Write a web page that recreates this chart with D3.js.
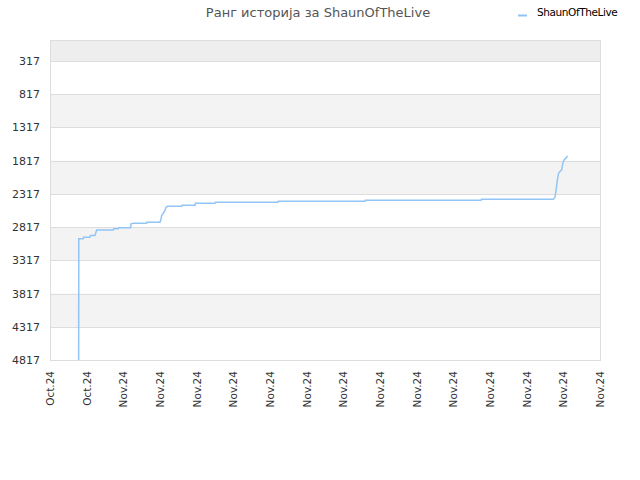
<html>
<head>
<meta charset="utf-8">
<script src="https://d3js.org/d3.v7.min.js"></script>
<style>
  body { margin: 0; background: #fff; }
  text { font-family: "DejaVu Sans", sans-serif; }
</style>
</head>
<body>
<svg id="chart" width="640" height="480"></svg>
<script>
// rank history
var dates = [
  "2024-10-29T13:30", "2024-10-29T13:40", "2024-10-29T19:30", "2024-10-29T20:00",
  "2024-10-30T04:20", "2024-10-30T04:50", "2024-10-30T10:50", "2024-10-30T13:10",
  "2024-10-31T10:50", "2024-10-31T11:20", "2024-10-31T17:20", "2024-10-31T17:50",
  "2024-11-01T09:30", "2024-11-01T10:00", "2024-11-01T13:30", "2024-11-02T06:30",
  "2024-11-02T07:00", "2024-11-03T00:00", "2024-11-03T01:20", "2024-11-03T02:10",
  "2024-11-03T04:20", "2024-11-03T06:30", "2024-11-03T07:55", "2024-11-03T10:05",
  "2024-11-04T04:25", "2024-11-04T04:55", "2024-11-04T21:50", "2024-11-04T22:20",
  "2024-11-06T00:00", "2024-11-06T00:30", "2024-11-09T10:30", "2024-11-09T11:00",
  "2024-11-14T04:20", "2024-11-14T04:50", "2024-11-20T12:15", "2024-11-20T12:45",
  "2024-11-24T10:50", "2024-11-24T13:05", "2024-11-24T14:25", "2024-11-24T16:05",
  "2024-11-24T17:30", "2024-11-24T19:40", "2024-11-24T21:50", "2024-11-24T23:05",
  "2024-11-25T00:55", "2024-11-25T04:25", "2024-11-25T05:15"
];
var ranks = [
  4817, 2992, 2992, 2968,
  2968, 2942, 2942, 2862,
  2862, 2841, 2841, 2827,
  2827, 2767, 2758, 2758,
  2743, 2743, 2693, 2642,
  2608, 2567, 2518, 2503,
  2503, 2488, 2488, 2458,
  2458, 2443, 2443, 2428,
  2428, 2413, 2413, 2398,
  2398, 2368, 2267, 2117,
  2017, 1978, 1957, 1867,
  1807, 1768, 1742
];
var yTicks = [317, 817, 1317, 1817, 2317, 2817, 3317, 3817, 4317, 4817];
var xTickDates = [
  "2024-10-28", "2024-10-30", "2024-11-01", "2024-11-03", "2024-11-05", "2024-11-07",
  "2024-11-09", "2024-11-11", "2024-11-13", "2024-11-15", "2024-11-17", "2024-11-19",
  "2024-11-21", "2024-11-23", "2024-11-25", "2024-11-27"
];
var xTickLabels = [
  "Oct.24", "Oct.24", "Nov.24", "Nov.24", "Nov.24", "Nov.24", "Nov.24", "Nov.24",
  "Nov.24", "Nov.24", "Nov.24", "Nov.24", "Nov.24", "Nov.24", "Nov.24", "Nov.24"
];
var seriesName = "ShaunOfTheLive";
var title = "Ранг историја за ShaunOfTheLive";

var parse = d3.timeParse("%Y-%m-%dT%H:%M");
var parseDay = d3.timeParse("%Y-%m-%d");
var data = dates.map(function(d, i) { return {t: parse(d), r: ranks[i]}; });
var tickDates = xTickDates.map(parseDay);

var plotL = 50, plotR = 600, plotT = 40, plotB = 360;
var svg = d3.select("#chart");

var x = d3.scaleTime()
    .domain([tickDates[0], tickDates[tickDates.length - 1]])
    .range([plotL, plotR]);
var y = d3.scaleLinear().domain([1, 4817]).range([plotT, plotB]);

// alternating bands
var bandEdges = [1].concat(yTicks);
for (var i = 0; i < bandEdges.length - 1; i += 2) {
  svg.append("rect")
    .attr("x", plotL)
    .attr("y", y(bandEdges[i]))
    .attr("width", plotR - plotL)
    .attr("height", y(bandEdges[i + 1]) - y(bandEdges[i]))
    .attr("fill", i === 0 ? "#eeeeee" : "#f3f3f3");
}

// grid lines
svg.append("g").selectAll("line")
  .data(yTicks)
  .enter().append("line")
    .attr("x1", plotL).attr("x2", plotR)
    .attr("y1", function(d) { return Math.round(y(d)) + 0.5; })
    .attr("y2", function(d) { return Math.round(y(d)) + 0.5; })
    .attr("stroke", "#dddddd");

// frame
svg.append("rect")
  .attr("x", plotL + 0.5).attr("y", plotT + 0.5)
  .attr("width", plotR - plotL).attr("height", plotB - plotT)
  .attr("fill", "none").attr("stroke", "#dddddd");

// y labels
svg.append("g").selectAll("text")
  .data(yTicks)
  .enter().append("text")
    .attr("x", 40)
    .attr("y", function(d) { return y(d) + 4; })
    .attr("text-anchor", "end")
    .attr("font-size", "11px")
    .attr("fill", "#333")
    .text(function(d) { return d; });

// x labels
svg.append("g").selectAll("text")
  .data(tickDates)
  .enter().append("text")
    .attr("transform", function(d) { return "translate(" + (x(d) + 4) + ",371) rotate(-90)"; })
    .attr("text-anchor", "end")
    .attr("font-size", "10.5px")
    .attr("fill", "#333")
    .text(function(d, i) { return xTickLabels[i]; });

// the line
var line = d3.line()
  .x(function(d) { return x(d.t); })
  .y(function(d) { return y(d.r); });
svg.append("path")
  .datum(data)
  .attr("d", line)
  .attr("fill", "none")
  .attr("stroke", "#92c5f5")
  .attr("stroke-width", 1.5);

// title
svg.append("text")
  .attr("x", 318)
  .attr("y", 17)
  .attr("text-anchor", "middle")
  .attr("font-size", "13px")
  .attr("fill", "#555")
  .text(title);

// legend
svg.append("line")
  .attr("x1", 518).attr("x2", 527)
  .attr("y1", 15.5).attr("y2", 15.5)
  .attr("stroke", "#92c5f5").attr("stroke-width", 2);
svg.append("text")
  .attr("x", 537)
  .attr("y", 16)
  .attr("font-size", "10.5px")
  .attr("fill", "#000")
  .attr("letter-spacing", "-0.4")
  .text(seriesName);
</script>
</body>
</html>
